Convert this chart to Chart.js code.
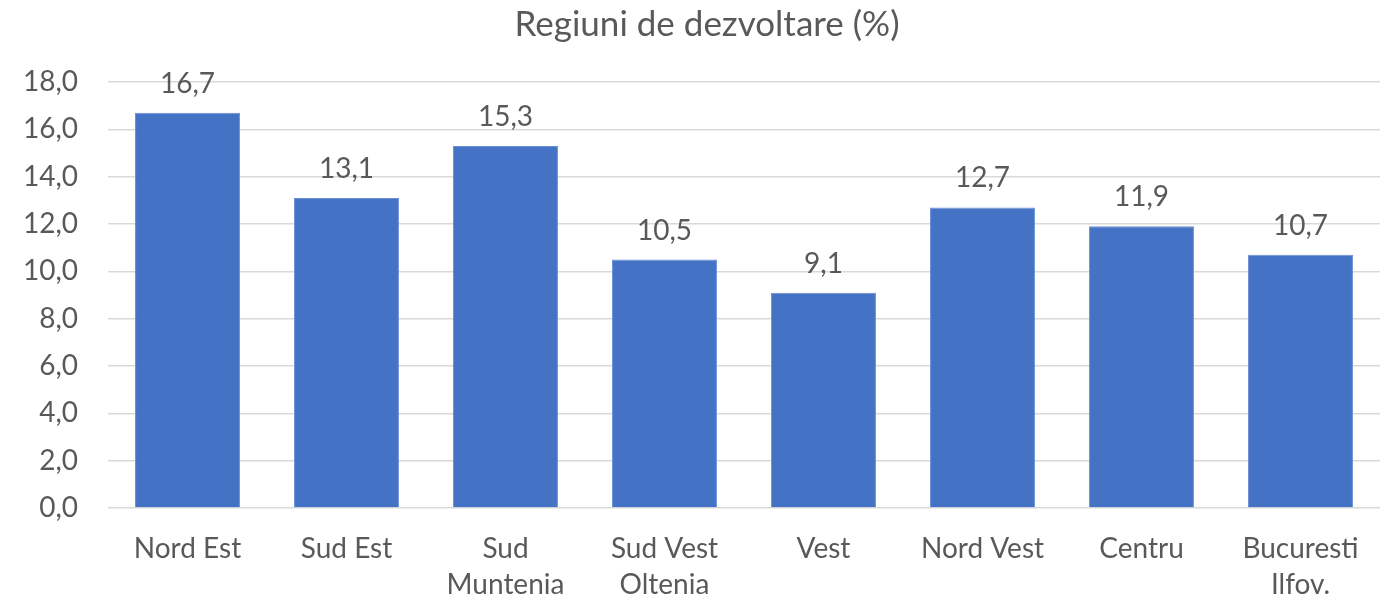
<!DOCTYPE html>
<html>
<head>
<meta charset="utf-8">
<title>Regiuni de dezvoltare</title>
<script src="https://cdn.jsdelivr.net/npm/chart.js@4.4.9/dist/chart.umd.min.js"></script>
<style>
  html, body { margin: 0; padding: 0; background: #fff; }
  #wrap { width: 1389px; height: 606px; position: relative; }
</style>
</head>
<body>
<div id="wrap"><canvas id="regionChart" width="1389" height="606"></canvas></div>
<script>
// Regiuni de dezvoltare - procente
const regions = ['Nord Est', 'Sud Est', ['Sud', 'Muntenia'], ['Sud Vest', 'Oltenia'], 'Vest', 'Nord Vest', 'Centru', ['Bucuresti', 'Ilfov.']];
const shares = [16.7, 13.1, 15.3, 10.5, 9.1, 12.7, 11.9, 10.7];
const yTicks = [0, 2, 4, 6, 8, 10, 12, 14, 16, 18];

const FONT = 'Lato, "Open Sans", sans-serif';
const TEXT = '#595959';

function fmt(v) {
    return v.toFixed(1).replace('.', ',');
}

// title + value labels drawn by hand (no datalabels plugin available)
const labelsPlugin = {
    id: 'labelsPlugin',
    afterDraw(chart) {
        const ctx = chart.ctx;
        ctx.save();
        ctx.fillStyle = TEXT;
        ctx.textAlign = 'center';
        ctx.textBaseline = 'middle';

        ctx.font = '35px ' + FONT;
        ctx.fillText('Regiuni de dezvoltare (%)', 707, 25);

        ctx.font = '28px ' + FONT;
        const meta = chart.getDatasetMeta(0);
        meta.data.forEach(function(bar, i) {
            ctx.fillText(fmt(shares[i]), bar.x, bar.y - 29);
        });
        ctx.restore();
    }
};

const ctx = document.getElementById('regionChart').getContext('2d');
new Chart(ctx, {
    type: 'bar',
    data: {
        labels: regions,
        datasets: [{
            data: shares,
            backgroundColor: '#4472C4',
            borderColor: '#6a8fd2',
            borderWidth: 1,
            barPercentage: 0.66,
            categoryPercentage: 1.0
        }]
    },
    options: {
        responsive: false,
        animation: false,
        layout: {
            padding: { top: 82, right: 9, left: 0, bottom: 0 }
        },
        plugins: {
            legend: { display: false },
            title: { display: false },
            tooltip: { enabled: false }
        },
        scales: {
            x: {
                grid: { display: false, drawTicks: false },
                border: { display: false },
                ticks: {
                    color: TEXT,
                    font: { family: FONT, size: 28, lineHeight: 1.29 },
                    padding: 23,
                    maxRotation: 0,
                    autoSkip: false
                },
                afterFit(scale) { scale.height = 98; }
            },
            y: {
                min: 0,
                max: 18,
                afterBuildTicks(scale) {
                    scale.ticks = yTicks.map(function(v) { return { value: v }; });
                },
                grid: { color: '#d9d9d9', lineWidth: 1.5, drawTicks: false },
                border: { display: false },
                ticks: {
                    color: TEXT,
                    font: { family: FONT, size: 28 },
                    padding: 30,
                    callback: function(v) { return fmt(v); }
                },
                afterFit(scale) { scale.width = 108; }
            }
        }
    },
    plugins: [labelsPlugin]
});
</script>
</body>
</html>
